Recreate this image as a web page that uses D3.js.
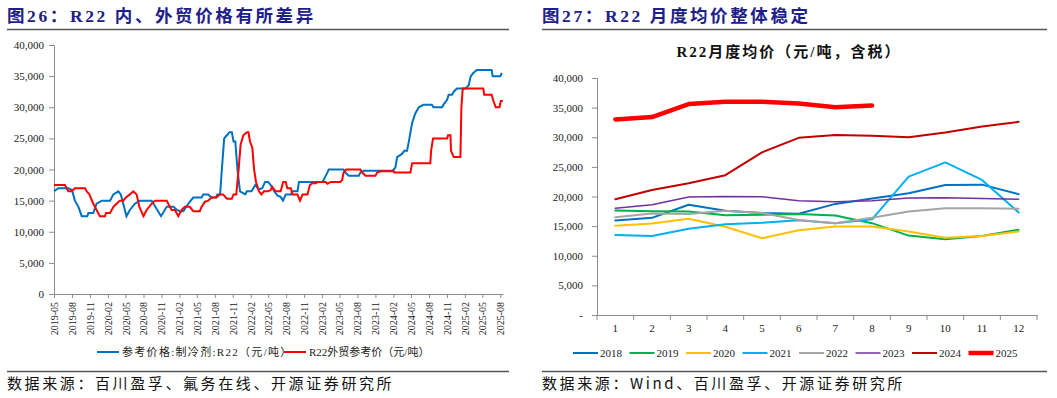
<!DOCTYPE html>
<html>
  <head>
    <meta charset="utf-8">
    <title>R22 价格</title>
    <script src="https://d3js.org/d3.v7.min.js"></script>
    <style>
      body{ margin:0; background:#fff; }
      svg{ display:block; font-family:"Liberation Serif","Noto Sans CJK SC",serif; }
      .axis path, .axis line{ stroke:#8c8c8c; }
      .axis text{ fill:#222; font-family:"Liberation Serif",serif; }
      .head{ fill:#1d2088; font-weight:bold; font-size:17.5px; letter-spacing:2.6px; }
      .src{ fill:#111; font-size:15px; font-family:"Noto Sans CJK SC",sans-serif; letter-spacing:2.6px; }
      .leg{ fill:#222; font-size:11px; }
    </style>
  </head>
  <body>
    <script>
      // ---- left chart: R22 domestic vs export reference price ----
      var domesticPrice = [
        ["2019-05-01",16500],["2019-05-23",17000],["2019-07-13",17000],["2019-08-01",16700],
        ["2019-08-16",15000],["2019-09-03",14000],["2019-09-20",12500],["2019-10-18",12500],
        ["2019-10-24",13000],["2019-11-18",13000],["2019-12-05",14500],["2020-01-01",15000],
        ["2020-02-12",15000],["2020-02-29",16000],["2020-03-25",16500],["2020-04-07",16000],
        ["2020-05-06",12500],["2020-05-23",13500],["2020-06-18",14500],["2020-07-14",15000],
        ["2020-09-12",15000],["2020-10-30",12500],["2020-11-28",14000],["2021-01-02",14000],
        ["2021-01-19",13500],["2021-02-05",13300],["2021-02-21",13300],["2021-03-18",14500],
        ["2021-04-13",15500],["2021-05-25",15500],["2021-06-03",16000],["2021-06-28",16000],
        ["2021-07-15",15500],["2021-08-07",15500],["2021-08-14",16000],["2021-08-28",16000],
        ["2021-09-06",20000],["2021-09-18",25000],["2021-10-02",25500],["2021-10-15",26000],
        ["2021-10-27",26000],["2021-11-05",24500],["2021-11-14",24500],["2021-11-25",20000],
        ["2021-12-08",16500],["2022-01-04",16000],["2022-01-12",16500],["2022-02-05",16500],
        ["2022-02-24",17500],["2022-03-15",16800],["2022-04-01",17000],["2022-04-15",18000],
        ["2022-05-01",18000],["2022-05-14",17500],["2022-06-01",16500],["2022-06-18",15800],
        ["2022-07-04",15600],["2022-07-16",15000],["2022-07-30",16000],["2022-08-25",16000],
        ["2022-09-03",16500],["2022-09-28",16500],["2022-10-06",18000],["2023-02-03",18000],
        ["2023-02-12",18500],["2023-02-28",19500],["2023-03-07",20000],["2023-05-22",20000],
        ["2023-05-31",19500],["2023-06-18",19000],["2023-08-08",19000],["2023-08-16",19500],
        ["2023-09-03",19800],["2024-01-25",19800],["2024-02-03",20000],["2024-02-11",20300],
        ["2024-02-20",22000],["2024-03-16",22500],["2024-03-28",23000],["2024-04-11",23000],
        ["2024-04-23",25000],["2024-05-07",27500],["2024-05-23",29000],["2024-06-10",30000],
        ["2024-07-04",30400],["2024-08-16",30400],["2024-08-24",30000],["2024-10-07",30000],
        ["2024-10-16",30500],["2024-11-02",31200],["2024-11-10",32000],["2024-11-27",32000],
        ["2024-12-06",32500],["2024-12-22",33000],["2025-02-04",33000],["2025-02-20",33500],
        ["2025-03-03",35000],["2025-03-16",35500],["2025-04-03",36000],["2025-06-18",36000],
        ["2025-06-23",35000],["2025-08-01",35000],["2025-08-09",35500]
      ];

      var exportPrice = [
        ["2019-05-01",17500],["2019-06-26",17500],["2019-07-13",16500],["2019-07-30",16500],
        ["2019-08-16",17000],["2019-10-07",17000],["2019-10-15",16500],["2019-10-29",16000],
        ["2019-11-18",14500],["2019-12-05",13500],["2019-12-22",12500],["2020-01-17",12500],
        ["2020-01-22",13000],["2020-02-12",13000],["2020-02-29",14000],["2020-03-16",14500],
        ["2020-04-02",15000],["2020-04-19",15000],["2020-05-03",15500],["2020-05-23",16000],
        ["2020-06-10",16500],["2020-06-27",16000],["2020-07-11",14000],["2020-08-01",12500],
        ["2020-08-17",13500],["2020-09-12",14500],["2020-09-29",15000],["2020-11-28",15000],
        ["2020-12-06",14500],["2020-12-23",13500],["2021-01-09",13500],["2021-01-26",12500],
        ["2021-02-12",13500],["2021-03-01",14000],["2021-03-26",14000],["2021-04-13",13300],
        ["2021-05-16",13300],["2021-05-25",14000],["2021-06-11",14800],["2021-06-28",15000],
        ["2021-07-15",15500],["2021-08-09",15500],["2021-08-26",16000],["2021-09-12",16000],
        ["2021-10-02",15300],["2021-10-27",15300],["2021-11-05",16000],["2021-11-19",16000],
        ["2021-12-01",20000],["2021-12-11",24000],["2021-12-25",25500],["2022-01-12",26000],
        ["2022-01-20",26000],["2022-01-28",24500],["2022-02-09",23500],["2022-02-18",20000],
        ["2022-02-28",18000],["2022-03-15",16500],["2022-03-27",16000],["2022-04-10",16500],
        ["2022-05-01",16500],["2022-05-14",16700],["2022-05-22",17200],["2022-06-08",16500],
        ["2022-07-04",16500],["2022-07-17",18000],["2022-07-30",18000],["2022-08-07",17000],
        ["2022-08-25",17000],["2022-09-03",16000],["2022-09-28",16000],["2022-10-11",15000],
        ["2022-10-24",16000],["2022-11-18",16000],["2022-12-01",17500],["2022-12-13",17800],
        ["2023-01-01",17800],["2023-01-09",18000],["2023-02-20",18000],["2023-03-01",17700],
        ["2023-03-17",18000],["2023-05-06",18000],["2023-05-15",18300],["2023-05-22",19500],
        ["2023-06-05",20000],["2023-08-16",20000],["2023-08-25",19500],["2023-09-12",19000],
        ["2023-11-01",19000],["2023-11-10",19500],["2023-11-27",19700],["2024-02-03",19700],
        ["2024-02-06",19500],["2024-04-28",19500],["2024-05-07",21000],["2024-08-08",21000],
        ["2024-08-12",23000],["2024-08-22",25000],["2024-11-02",25000],["2024-11-07",25500],
        ["2024-11-19",25500],["2024-11-22",23000],["2024-12-06",22000],["2025-01-09",22000],
        ["2025-01-14",30000],["2025-01-21",33000],["2025-05-06",33000],["2025-05-11",32000],
        ["2025-06-18",32000],["2025-06-27",31000],["2025-07-09",30000],["2025-07-28",30000],
        ["2025-08-04",31000],["2025-08-14",31000]
      ];

      var leftYTicks = [0,5000,10000,15000,20000,25000,30000,35000,40000];
      var leftLegend = ["参考价格:制冷剂:R22（元/吨）","R22外贸参考价（元/吨）"];

      // ---- right chart: R22 monthly average by year ----
      var months = [1,2,3,4,5,6,7,8,9,10,11,12];
      var years = ["2018","2019","2020","2021","2022","2023","2024","2025"];
      var avg2018 = [15950,16400,18600,17600,17200,17100,18750,19650,20550,21950,22000,20400];
      var avg2019 = [17650,17500,17450,16850,16900,17050,16800,15500,13400,12800,13350,14400];
      var avg2020 = [15050,15450,16250,14900,12950,14300,14950,14950,14100,13050,13350,14100];
      var avg2021 = [13500,13350,14550,15300,15550,16000,15500,16150,23350,25750,22800,17300];
      var avg2022 = [16500,17150,17050,17600,17200,16050,15500,16400,17450,18000,18000,17950];
      var avg2023 = [18000,18600,19900,20000,19950,19300,19100,19300,19750,19800,19650,19550];
      var avg2024 = [19550,21100,22250,23600,27450,29900,30400,30250,30000,30800,31800,32600];
      var avg2025 = [33000,33400,35600,36000,36000,35700,35050,35350];
      var rightYTicks = [0,5000,10000,15000,20000,25000,30000,35000,40000];

      var yearColors = ["#0070c0","#00b050","#ffc000","#00b0f0","#a5a5a5","#7030a0","#c00000","#ff0000"];
      var yearWidths = [2,2,2,2,2,1.5,2,4.5];

      var width = 1057, height = 398;
      var svg = d3.select("body").append("svg")
        .attr("width", width)
        .attr("height", height);

      // headings + rules
      svg.append("text").attr("class","head").attr("x",7).attr("y",22)
        .text("图26：R22 内、外贸价格有所差异");
      svg.append("text").attr("class","head").attr("x",542).attr("y",22)
        .text("图27：R22 月度均价整体稳定");
      [[7,509],[542,1047]].forEach(function(r){
        svg.append("line").attr("x1",r[0]).attr("x2",r[1]).attr("y1",29.5).attr("y2",29.5)
          .attr("stroke","#555").attr("stroke-width",1.3);
        svg.append("line").attr("x1",r[0]).attr("x2",r[1]).attr("y1",371.5).attr("y2",371.5)
          .attr("stroke","#555").attr("stroke-width",1.3);
      });
      svg.append("text").attr("class","src").attr("x",7).attr("y",389)
        .text("数据来源：百川盈孚、氟务在线、开源证券研究所");
      svg.append("text").attr("class","src").attr("x",542).attr("y",389)
        .text("数据来源：Wind、百川盈孚、开源证券研究所");

      // ---------- left chart ----------
      var parse = d3.timeParse("%Y-%m-%d");
      var xL = d3.scaleTime()
        .domain([parse("2019-05-01"), parse("2025-08-15")])
        .range([54, 503]);
      var yL = d3.scaleLinear().domain([0,40000]).range([294,45]);

      var tickDates = [];
      var d = parse("2019-05-01");
      while (d <= parse("2025-08-01")) { tickDates.push(d); d = d3.timeMonth.offset(d,3); }

      svg.append("g").attr("class","axis")
        .attr("transform","translate(54,0)")
        .call(d3.axisLeft(yL).tickValues(leftYTicks).tickSize(5).tickPadding(5).tickFormat(d3.format(",")))
        .call(function(g){ g.selectAll("text").style("font-size","11px"); });

      svg.append("g").attr("class","axis")
        .attr("transform","translate(0,294)")
        .call(d3.axisBottom(xL).tickValues(tickDates).tickSize(4).tickSizeOuter(0).tickFormat(d3.timeFormat("%Y-%m")))
        .selectAll("text")
          .style("font-size","10px")
          .style("text-anchor","end")
          .attr("transform","rotate(-90)")
          .attr("x",-8).attr("y",0).attr("dy","0.35em");

      var lineL = d3.line()
        .x(function(p){ return xL(parse(p[0])); })
        .y(function(p){ return yL(p[1]); });

      svg.append("path").datum(domesticPrice)
        .attr("d",lineL).attr("fill","none").attr("stroke","#0070c0").attr("stroke-width",2);
      svg.append("path").datum(exportPrice)
        .attr("d",lineL).attr("fill","none").attr("stroke","#ff0000").attr("stroke-width",2);

      var legL = [[97,"#0070c0","1.3px"],[284,"#ff0000","0px"]];
      legL.forEach(function(l,i){
        svg.append("line").attr("x1",l[0]).attr("x2",l[0]+22).attr("y1",352).attr("y2",352)
          .attr("stroke",l[1]).attr("stroke-width",2);
        svg.append("text").attr("class","leg").attr("x",l[0]+25).attr("y",356)
          .style("letter-spacing",l[2])
          .text(leftLegend[i]);
      });

      // ---------- right chart ----------
      svg.append("text").attr("x",789).attr("y",57).attr("text-anchor","middle")
        .style("font-size","15px").style("font-weight","bold").style("letter-spacing","2px")
        .attr("fill","#111")
        .text("R22月度均价（元/吨，含税）");

      var xR = d3.scaleBand().domain(months).range([597,1037]);
      var yR = d3.scaleLinear().domain([0,40000]).range([315,78]);

      svg.append("g").attr("class","axis")
        .attr("transform","translate(597,0)")
        .call(d3.axisLeft(yR).tickValues(rightYTicks).tickSize(5).tickPadding(9)
          .tickFormat(function(v){ return v === 0 ? "-" : d3.format(",")(v); }))
        .call(function(g){ g.selectAll("text").style("font-size","11px"); });

      var xAxisR = svg.append("g").attr("class","axis")
        .attr("transform","translate(0,315)")
        .call(d3.axisBottom(xR).tickSize(0).tickPadding(9));
      xAxisR.selectAll("text").style("font-size","11px");
      xAxisR.selectAll(".bound").data(months.concat([13])).enter()
        .append("line").attr("class","bound")
        .attr("x1",function(m){ return m === 13 ? 1037 : xR(m); })
        .attr("x2",function(m){ return m === 13 ? 1037 : xR(m); })
        .attr("y1",0).attr("y2",5).attr("stroke","#8c8c8c");

      var yearData = [avg2018,avg2019,avg2020,avg2021,avg2022,avg2023,avg2024,avg2025];
      var lineR = d3.line()
        .x(function(v,i){ return xR(months[i]) + xR.bandwidth()/2; })
        .y(function(v){ return yR(v); });

      yearData.forEach(function(vals,i){
        svg.append("path").datum(vals)
          .attr("d",lineR).attr("fill","none")
          .attr("stroke",yearColors[i]).attr("stroke-width",yearWidths[i])
          .attr("stroke-linecap","round").attr("stroke-linejoin","round");
      });

      years.forEach(function(y,i){
        var lx = 573 + i*56.5;
        svg.append("line").attr("x1",lx).attr("x2",lx+25).attr("y1",353).attr("y2",353)
          .attr("stroke",yearColors[i]).attr("stroke-width",yearWidths[i]);
        svg.append("text").attr("class","leg").attr("x",lx+27).attr("y",357).text(y);
      });
    </script>
  </body>
</html>
